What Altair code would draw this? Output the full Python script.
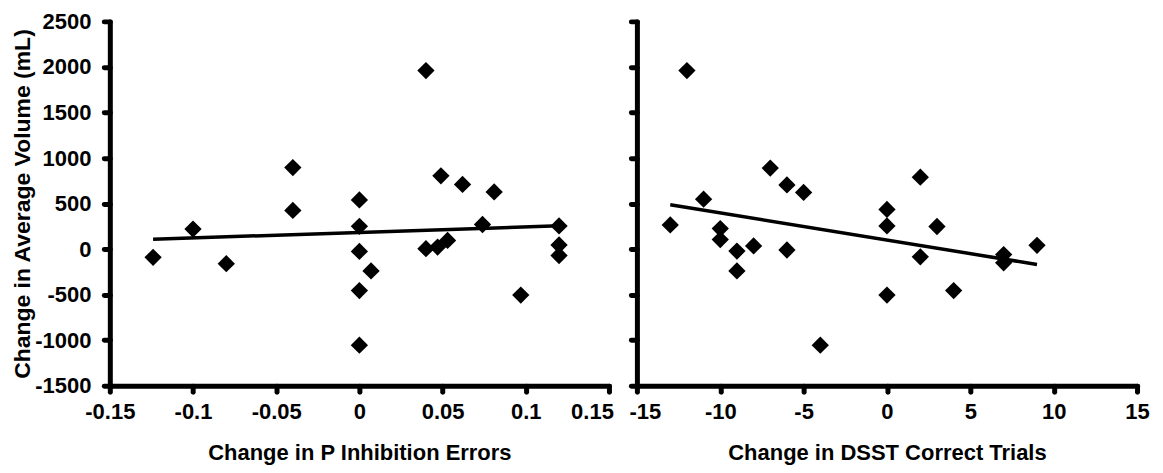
import altair as alt
import pandas as pd

# Left panel: Change in P Inhibition Errors vs Change in Average Volume (mL)
left_x = [-0.124, -0.1, -0.08, -0.04, -0.04, 0.0, 0.0, 0.0, 0.0, 0.0, 0.007,
          0.04, 0.04, 0.047, 0.053, 0.049, 0.062, 0.074, 0.081, 0.097,
          0.12, 0.12, 0.12]
left_y = [-90, 220, -160, 895, 425, 540, 250, -25, -455, -1055, -240,
          1960, 5, 22, 95, 805, 710, 270, 628, -505,
          255, 45, -70]

# Right panel: Change in DSST Correct Trials vs Change in Average Volume (mL)
right_x = [-12, -7, -6, -5, 2, -11, 0, -13, -10, 0, 3, -10, -9, -8, -6,
           -9, 2, 7, 7, 9, 0, 4, -4]
right_y = [1960, 890, 705, 622, 790, 548, 436, 265, 225, 255, 248, 105, -22, 35, -10,
           -240, -85, -60, -150, 42, -505, -455, -1055]

y_ticks = [-1500, -1000, -500, 0, 500, 1000, 1500, 2000, 2500]
left_ticks = [-0.15, -0.1, -0.05, 0, 0.05, 0.1, 0.15]
right_ticks = [-15, -10, -5, 0, 5, 10, 15]

FONT = "Liberation Sans"
Y_TITLE = "Change in Average Volume (mL)"


def panel(xs, ys, xdom, xticks, xtitle, width, show_y, label_shift):
    df = pd.DataFrame({"x": xs, "y": ys})
    yaxis_kw = dict(values=y_ticks, labelExpr="'' + datum.value",
                    labelPadding=13, titlePadding=0, titleFontSize=23)
    if show_y:
        yaxis_kw["title"] = Y_TITLE
    else:
        yaxis_kw["title"] = None
        yaxis_kw["labels"] = False
    x = alt.X("x:Q",
              scale=alt.Scale(domain=xdom, nice=False, zero=False),
              axis=alt.Axis(values=xticks, title=xtitle,
                            labelExpr="'' + datum.value",
                            labelFlush=False, labelOverlap=False,
                            labelOffset=label_shift,
                            labelPadding=10, titlePadding=20))
    y = alt.Y("y:Q",
              scale=alt.Scale(domain=[-1500, 2500], nice=False, zero=False),
              axis=alt.Axis(**yaxis_kw))
    base = alt.Chart(df)
    pts = base.mark_point(shape="diamond", filled=True, size=300,
                          color="black", opacity=1).encode(x=x, y=y)
    line = base.transform_regression("x", "y").mark_line(
        color="black", strokeWidth=3.5).encode(x=x, y=y)
    return alt.layer(pts, line).properties(width=width, height=365)


left = panel(left_x, left_y, [-0.15, 0.15], left_ticks,
             "Change in P Inhibition Errors", 500, True,
             {"condition": {"test": "datum.value > 0.14", "value": -17}, "value": 0})
right = panel(right_x, right_y, [-15, 15], right_ticks,
              "Change in DSST Correct Trials", 501, False,
              {"condition": {"test": "datum.value < -14", "value": 8}, "value": 0})

chart = alt.hconcat(left, right, spacing=28, bounds="flush").properties(
    padding={"left": 3, "top": 2, "right": 5, "bottom": 5}
).configure_view(stroke=None).configure_axis(
    grid=False,
    domainColor="black", domainWidth=5, domainCap="round",
    tickColor="black", tickWidth=5, tickSize=6, tickCap="round",
    labelFont=FONT, labelFontSize=22, labelFontWeight="bold", labelColor="black",
    titleFont=FONT, titleFontSize=22, titleFontWeight="bold", titleColor="black",
)

chart.save("out.html", embed_options={"renderer": "svg", "actions": False})
